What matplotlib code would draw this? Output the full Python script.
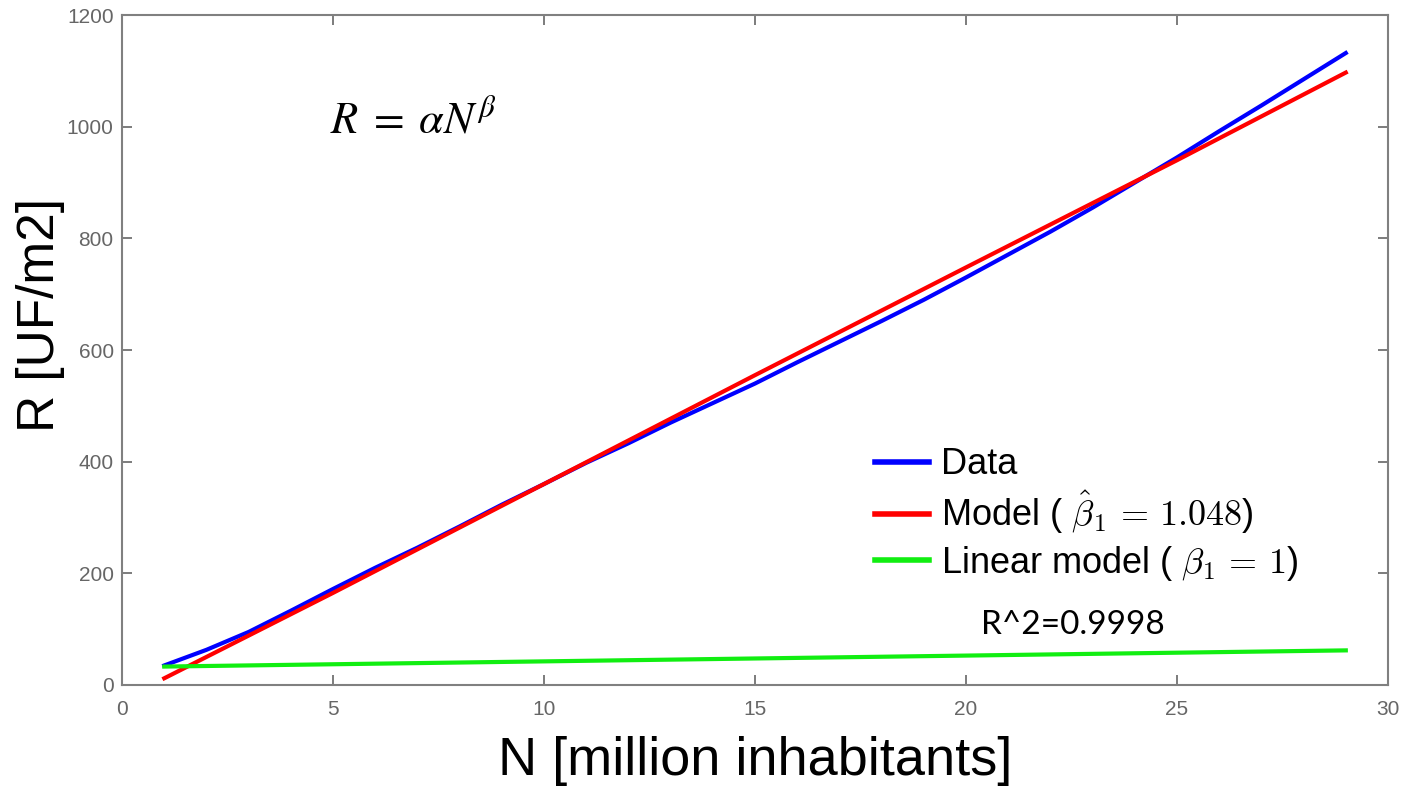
import numpy as np
import matplotlib.pyplot as plt

# data
n_data = [1, 2, 3, 4, 5, 6, 7, 8, 9, 10, 11, 12, 13, 14, 15,
          16, 17, 18, 19, 20, 21, 22, 23, 24, 25, 26, 27, 28, 29]
r_data = [35, 63, 95, 133, 172, 210, 246, 284, 323, 360, 398, 433, 470, 505, 540,
          578, 615, 652, 690, 730, 771, 812, 855, 900, 945, 992, 1038, 1085, 1132]

n_model = [1, 5, 10, 15, 20, 25, 29]
r_model = [12, 165, 360, 555, 748, 940, 1097]

n_lin = [1, 29]
r_lin = [33, 62]

xticks = [0, 5, 10, 15, 20, 25, 30]
yticks = [0, 200, 400, 600, 800, 1000, 1200]

plt.rcParams['font.family'] = ['Liberation Sans', 'DejaVu Sans']

fig = plt.figure(figsize=(14.03, 7.93), dpi=100)
ax = fig.add_axes([0.087, 0.1362, 0.9023, 0.8448])

ax.plot(n_data, r_data, color="#0000ff", lw=3, label="Data")
ax.plot(n_model, r_model, color="#ff0000", lw=3,
        label=r"Model ( $\hat{\beta}_1 \,=\, 1.048$)")
ax.plot(n_lin, r_lin, color="#11ee11", lw=3,
        label=r"Linear model ( $\beta_1 \,=\, 1$)")

ax.set_xlim(0, 30)
ax.set_ylim(0, 1200)
ax.set_xticks(xticks)
ax.set_yticks(yticks)
ax.tick_params(direction="in", length=7, width=1.2, color="#666666",
               labelcolor="#666666", labelsize=15, top=True, right=True)
ax.tick_params(axis="x", pad=11)
ax.tick_params(axis="y", pad=6)
for s in ax.spines.values():
    s.set_color("#808080")
    s.set_linewidth(1.5)

ax.set_xlabel("N [million inhabitants]", fontsize=39, labelpad=12)
ax.set_ylabel("R [UF/m2]", fontsize=37)
ax.yaxis.set_label_coords(-0.045, 0.552)

ax.text(0.164, 0.824, r"$R\;=\;\alpha N^{\beta}$", transform=ax.transAxes,
        fontsize=32, math_fontfamily="stix", va="baseline")

leg = ax.legend(loc="upper left", bbox_to_anchor=(0.595, 0.355), frameon=False,
                handlelength=1.5, handletextpad=0.33, labelspacing=0.2,
                borderpad=0, borderaxespad=0,
                prop={"size": 26, "math_fontfamily": "cm"})
for line in leg.get_lines():
    line.set_linewidth(4)

ax.text(0.751, 0.09, "R^2=0.9998", transform=ax.transAxes, fontsize=24,
        family=["Lato", "DejaVu Sans"], ha="center", va="center")

fig.savefig("out.png", dpi=100)
